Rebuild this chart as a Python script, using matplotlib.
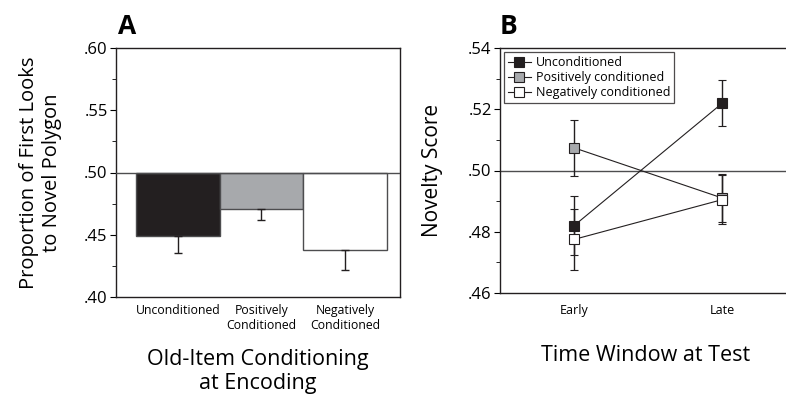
import matplotlib
matplotlib.use("Agg")
import matplotlib.pyplot as plt
from matplotlib.lines import Line2D
from matplotlib.ticker import MultipleLocator, FuncFormatter

plt.rcParams['font.family'] = ['Open Sans', 'DejaVu Sans']

# Panel A data
cond_labels = ['Unconditioned', 'Positively\nConditioned', 'Negatively\nConditioned']
first_looks = [0.449, 0.4705, 0.4375]
first_looks_err = [0.0135, 0.009, 0.0155]
bar_colors = ['#231f20', '#a7a9ac', '#ffffff']

# Panel B data
windows = ['Early', 'Late']
series_names = ['Unconditioned', 'Positively conditioned', 'Negatively conditioned']
novelty = [
    [0.482, 0.522],
    [0.5074, 0.491],
    [0.4775, 0.4905],
]
novelty_err = [
    [0.0097, 0.0074],
    [0.0091, 0.0078],
    [0.0100, 0.0080],
]
marker_colors = ['#231f20', '#a7a9ac', '#ffffff']

fmt = FuncFormatter(lambda v, p: ('%.2f' % v)[1:])

fig = plt.figure(figsize=(7.86, 3.95), dpi=100)

# ---- Panel A ----
axA = fig.add_axes([116 / 786, 1 - 297 / 395, 284 / 786, 249 / 395])
xs = range(len(first_looks))
heights = [v - 0.5 for v in first_looks]
axA.bar(xs, heights, bottom=0.5, width=1.0, color=bar_colors,
        edgecolor='#4d4d4f', linewidth=1.0, zorder=2)
axA.errorbar(xs, first_looks, yerr=[first_looks_err, [0, 0, 0]], fmt='none',
             ecolor='#231f20', elinewidth=1.0, capsize=3, capthick=1.0, zorder=3)
axA.axhline(0.5, color='#4d4d4f', linewidth=1.0, zorder=4)
axA.set_xlim(-0.74, 2.66)
axA.set_ylim(0.40, 0.60)
axA.yaxis.set_major_locator(MultipleLocator(0.05))
axA.yaxis.set_minor_locator(MultipleLocator(0.025))
axA.yaxis.set_major_formatter(fmt)
axA.set_xticks(list(xs))
axA.set_xticklabels(cond_labels, fontsize=8.8, linespacing=1.2)
axA.tick_params(axis='x', length=0, pad=5)
axA.tick_params(axis='y', which='major', length=4, labelsize=12, pad=2)
axA.tick_params(axis='y', which='minor', length=3)
axA.set_ylabel('Proportion of First Looks\nto Novel Polygon', fontsize=14.5,
               linespacing=1.2, labelpad=16)
axA.set_xlabel('Old-Item Conditioning\nat Encoding', fontsize=15.5,
               linespacing=1.2, labelpad=12)
for s in axA.spines.values():
    s.set_color('#231f20')
    s.set_linewidth(1.0)
fig.text(118 / 786, 1 - 34 / 395, 'A', fontsize=19, fontweight='bold')

# ---- Panel B ----
axB = fig.add_axes([500 / 786, 1 - 293 / 395, 292 / 786, 245 / 395])
for name, vals, errs, mc in zip(series_names, novelty, novelty_err, marker_colors):
    axB.errorbar(range(len(windows)), vals, yerr=errs, color='#231f20',
                 linewidth=0.8, elinewidth=1.0, capsize=3, capthick=1.0,
                 marker='s', markersize=6.5, markerfacecolor=mc,
                 markeredgecolor='#231f20', markeredgewidth=0.8, zorder=3)
axB.axhline(0.5, color='#4d4d4f', linewidth=1.0, zorder=1)
axB.set_xlim(-0.5, 1.47)
axB.set_ylim(0.46, 0.54)
axB.yaxis.set_major_locator(MultipleLocator(0.02))
axB.yaxis.set_minor_locator(MultipleLocator(0.01))
axB.yaxis.set_major_formatter(fmt)
axB.set_xticks(range(len(windows)))
axB.set_xticklabels(windows, fontsize=9)
axB.tick_params(axis='x', length=0, pad=8)
axB.tick_params(axis='y', which='major', length=4, labelsize=12, pad=2)
axB.tick_params(axis='y', which='minor', length=3)
axB.set_ylabel('Novelty Score', fontsize=15, labelpad=18)
axB.set_xlabel('Time Window at Test', fontsize=15.5, labelpad=20)
for s in axB.spines.values():
    s.set_color('#231f20')
    s.set_linewidth(1.0)

handles = [Line2D([], [], color='#231f20', linewidth=0.8, marker='s',
                  markersize=6.5, markerfacecolor=mc, markeredgecolor='#231f20',
                  markeredgewidth=0.8)
           for mc in marker_colors]
leg = axB.legend(handles, series_names, loc='upper left', fontsize=9,
                 frameon=True, fancybox=False, edgecolor='#231f20',
                 handlelength=1.8, handletextpad=0.4, borderpad=0.3,
                 labelspacing=0.15, borderaxespad=0.35)
leg.get_frame().set_linewidth(0.9)
fig.text(500 / 786, 1 - 34 / 395, 'B', fontsize=19, fontweight='bold')

fig.savefig('out.png', dpi=100)
